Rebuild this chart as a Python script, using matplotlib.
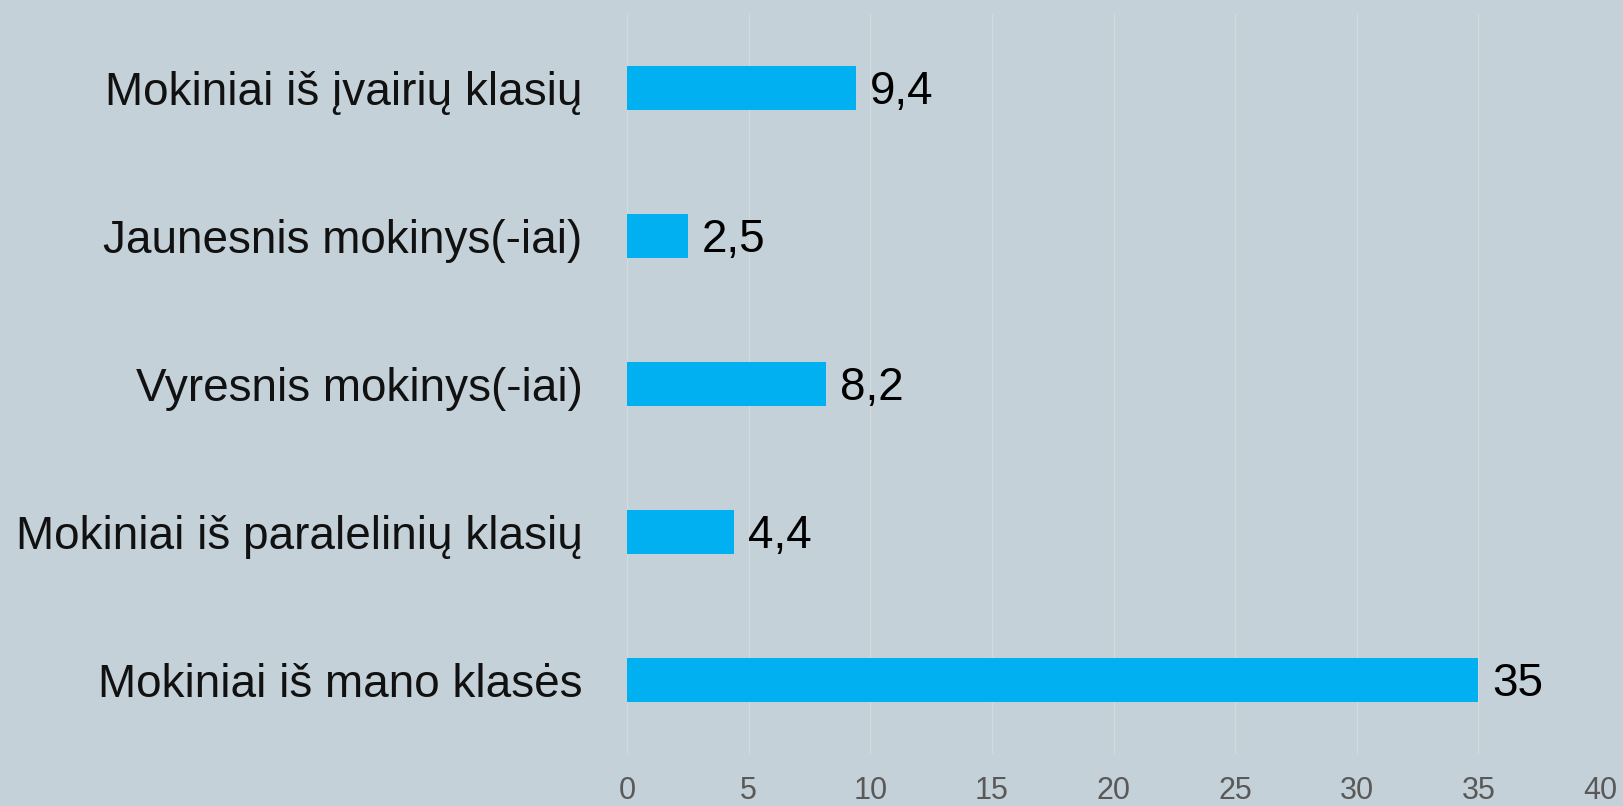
import matplotlib
matplotlib.use("Agg")
from matplotlib import pyplot as plt

categories = ["Mokiniai iš mano klasės",
              "Mokiniai iš paralelinių klasių",
              "Vyresnis mokinys(-iai)",
              "Jaunesnis mokinys(-iai)",
              "Mokiniai iš įvairių klasių"]
values = [35, 4.4, 8.2, 2.5, 9.4]
value_labels = ["35", "4,4", "8,2", "2,5", "9,4"]
xticks = [0, 5, 10, 15, 20, 25, 30, 35, 40]

bg = "#c5d1d8"
fig = plt.figure(figsize=(16.23, 8.06), dpi=100, facecolor=bg)
ax = fig.add_axes([627 / 1623, 1 - 754 / 806, (1600 - 627) / 1623, 740 / 806])
ax.set_facecolor(bg)

ypos = range(len(categories))
ax.barh(ypos, values, height=0.3, color="#00b0f0", zorder=3)
for y, v, lab in zip(ypos, values, value_labels):
    ax.annotate(lab, (v, y), xytext=(10, -3), textcoords="offset points",
                va="center", ha="left", fontsize=33, color="black",
                family="Liberation Sans")

ax.set_xlim(0, 40)
ax.set_ylim(-0.5, len(categories) - 0.5)
ax.set_xticks(xticks)
ax.set_xticklabels([str(t) for t in xticks], family="Liberation Sans",
                   fontsize=22, color="#595959")
ax.set_yticks(list(ypos))
ax.set_yticklabels(categories, family="Liberation Sans", fontsize=33, color="#111111")
ax.tick_params(axis="x", length=0, pad=16)
ax.tick_params(axis="y", length=0, pad=32)
ax.grid(axis="x", color="#d3d9dc", linewidth=1, zorder=0)
for sp in ax.spines.values():
    sp.set_visible(False)

fig.savefig("out.png", facecolor=bg)
